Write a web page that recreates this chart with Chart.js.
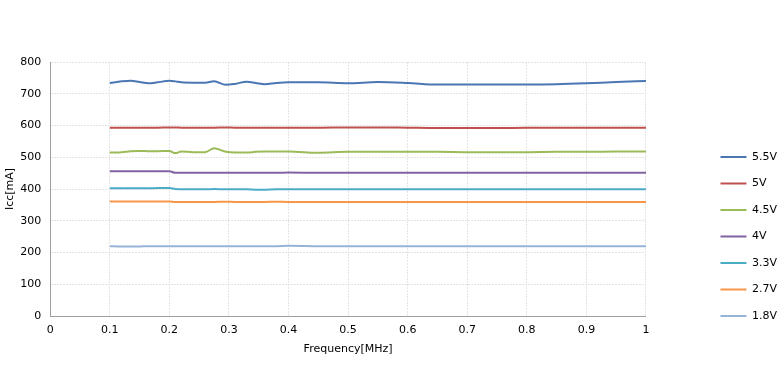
<!DOCTYPE html>
<html>
<head>
<meta charset="utf-8">
<script src="https://cdn.jsdelivr.net/npm/chart.js@4.4.1/dist/chart.umd.min.js"></script>
<style>
    html, body { margin: 0; padding: 0; background: #fff; overflow: hidden; }
    #wrap { position: relative; width: 787px; height: 376px; }
</style>
</head>
<body>
<div id="wrap"><canvas id="iccChart"></canvas></div>
<script>
// Frequency in MHz
const frequency = [0.1, 0.12, 0.135, 0.15, 0.165, 0.18, 0.2, 0.21, 0.22, 0.24, 0.26, 0.275, 0.295, 0.31, 0.33, 0.345, 0.36, 0.38, 0.4, 0.45, 0.5, 0.55, 0.6, 0.65, 0.7, 0.75, 0.8, 0.85, 0.9, 0.95, 1.0];

// Icc in mA per supply voltage
const icc55 = [734, 739, 741, 737, 733, 736, 741, 739, 736, 735, 735, 739, 728, 731, 738, 734, 730, 734, 736, 736, 733, 737, 734, 729, 729, 729, 729, 730, 733, 737, 740];
const icc50 = [593, 593, 593, 593, 593, 593, 594, 594, 593, 593, 593, 593, 594, 593, 593, 593, 593, 593, 593, 593, 594, 594, 593, 592, 592, 592, 593, 593, 593, 593, 593];
const icc45 = [515, 516, 519, 520, 519, 519, 520, 513, 518, 516, 516, 528, 517, 515, 515, 517, 518, 518, 518, 514, 517, 517, 517, 517, 516, 516, 516, 517, 517, 518, 518];
const icc40 = [456, 456, 456, 456, 456, 456, 456, 451, 451, 451, 451, 451, 451, 451, 451, 451, 451, 451, 452, 451, 451, 451, 451, 451, 451, 451, 451, 451, 451, 451, 451];
const icc33 = [402, 402, 402, 402, 402, 403, 403, 400, 399, 399, 399, 400, 399, 399, 399, 398, 398, 399, 399, 399, 399, 399, 399, 399, 399, 399, 399, 399, 399, 399, 399];
const icc27 = [361, 361, 361, 361, 361, 361, 361, 359, 359, 359, 359, 359, 360, 359, 359, 359, 359, 360, 359, 359, 359, 359, 359, 359, 359, 359, 359, 359, 359, 359, 359];
const icc18 = [220, 219, 219, 219, 220, 220, 220, 220, 220, 220, 220, 220, 220, 220, 220, 220, 220, 220, 221, 220, 220, 220, 220, 220, 220, 220, 220, 220, 220, 220, 220];

const seriesLabels = ['5.5V', '5V', '4.5V', '4V', '3.3V', '2.7V', '1.8V'];
const seriesValues = [icc55, icc50, icc45, icc40, icc33, icc27, icc18];
const seriesColors = ['#4a76b3', '#c0504d', '#9bbb59', '#8064a2', '#4bacc6', '#f79646', '#95b3d7'];

const LEGEND_GAP = 59;
const font = { family: "'DejaVu Sans', Tahoma, sans-serif", size: 11 };

// push the legend away from the plot area, like the Excel original
const legendGap = {
    id: 'legendGap',
    afterInit(chart) {
        const legend = chart.legend;
        const fit = legend.fit.bind(legend);
        legend.fit = function() {
            fit();
            this.width += LEGEND_GAP;
        };
    },
    afterLayout(chart) {
        chart.legend.left += LEGEND_GAP;
        chart.legend.right += LEGEND_GAP;
    }
};

Chart.defaults.font = font;
Chart.defaults.color = '#000';

new Chart(document.getElementById('iccChart'), {
    type: 'line',
    data: {
        datasets: seriesLabels.map((label, i) => ({
            label: label,
            data: frequency.map((f, j) => ({ x: f, y: seriesValues[i][j] })),
            borderColor: seriesColors[i],
            backgroundColor: seriesColors[i],
            borderWidth: 2,
            pointRadius: 0,
            cubicInterpolationMode: 'monotone',
            fill: false
        }))
    },
    options: {
        responsive: true,
        maintainAspectRatio: false,
        animation: false,
        layout: {
            padding: { top: 62, left: 0, right: 0, bottom: 14 }
        },
        plugins: {
            legend: {
                position: 'right',
                align: 'start',
                title: {
                    display: true,
                    text: '',
                    padding: { top: 60.8, bottom: 0 }
                },
                labels: {
                    boxWidth: 26,
                    boxHeight: 0,
                    padding: 15.5,
                    color: '#000'
                }
            },
            tooltip: { enabled: false }
        },
        scales: {
            x: {
                type: 'linear',
                min: 0,
                max: 1,
                ticks: {
                    stepSize: 0.1,
                    padding: 8,
                    callback: value => String(Number(value.toFixed(1)))
                },
                grid: {
                    color: '#e4e4e4',
                    drawTicks: false
                },
                border: {
                    color: '#a0a0a0',
                    dash: [2, 1]
                },
                title: {
                    display: true,
                    text: 'Frequency[MHz]',
                    padding: { top: -2.8, bottom: 6.4 }
                }
            },
            y: {
                min: 0,
                max: 800,
                ticks: {
                    stepSize: 100,
                    padding: 9
                },
                grid: {
                    color: '#e4e4e4',
                    drawTicks: false
                },
                border: {
                    color: '#a0a0a0',
                    dash: [2, 1]
                },
                title: {
                    display: true,
                    text: 'Icc[mA]',
                    padding: { top: 3.5, bottom: -5.5 }
                }
            }
        }
    },
    plugins: [legendGap]
});
</script>
</body>
</html>
